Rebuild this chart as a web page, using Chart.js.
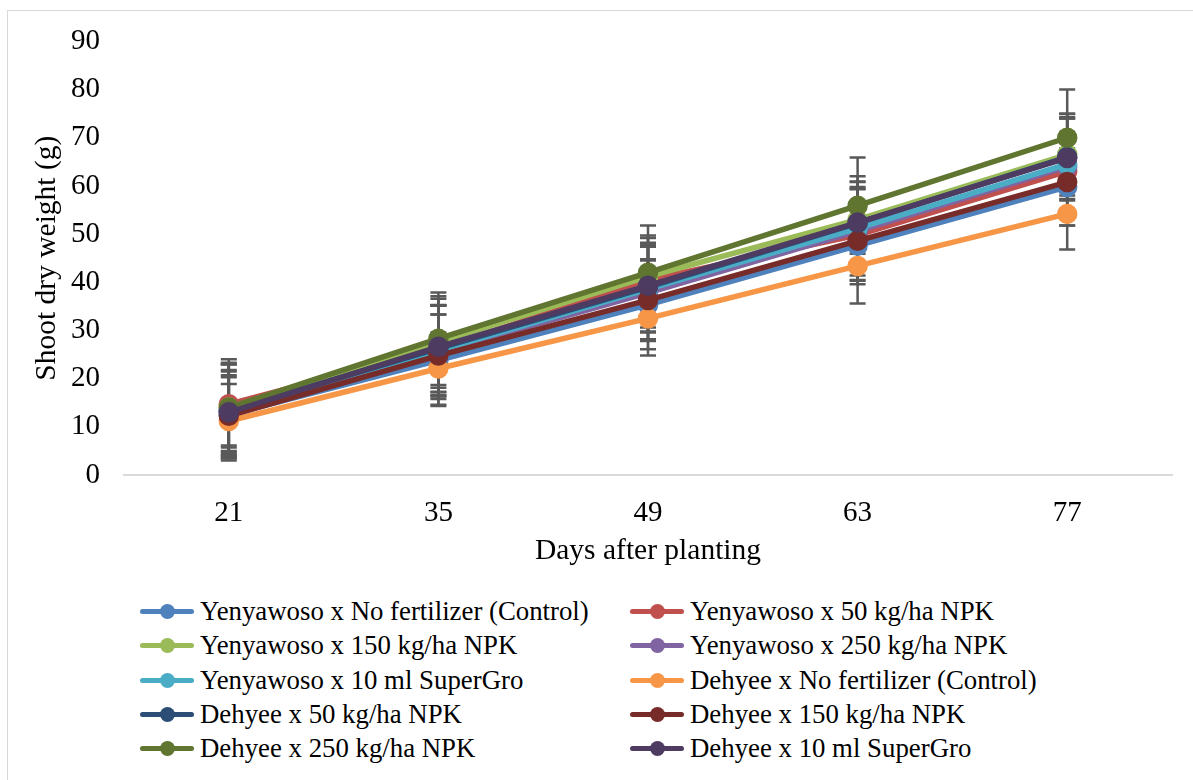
<!DOCTYPE html>
<html>
<head>
<meta charset="utf-8">
<script src="https://cdn.jsdelivr.net/npm/chart.js@4.4.1/dist/chart.umd.min.js"></script>
<style>
  html, body { margin: 0; padding: 0; background: #fff; }
  #wrap { position: relative; width: 1193px; height: 780px; overflow: hidden; }
  #frame { position: absolute; left: 7px; top: 10px; width: 1200px; height: 800px;
           border-left: 1px solid #d9d9d9; border-top: 1px solid #d9d9d9; }
  #chartBox { position: absolute; left: 0; top: 0; width: 1193px; height: 590px; }
  .leg { position: absolute; height: 30px; display: flex; align-items: center;
         font-family: "Liberation Serif", "Times New Roman", serif; font-size: 26.8px; color: #000; white-space: nowrap; }
  .mk { position: relative; width: 54px; height: 5px; border-radius: 3px; margin-right: 6px; }
  .mk i { position: absolute; left: 20px; top: -5px; width: 15px; height: 15px; border-radius: 50%; }
</style>
</head>
<body>
<div id="wrap">
  <div id="frame"></div>
  <div id="chartBox"><canvas id="shootChart" width="1193" height="590"></canvas></div>
  <div id="legend"></div>
</div>
<script>
const days = ['21', '35', '49', '63', '77'];
const yTicks = [0, 10, 20, 30, 40, 50, 60, 70, 80, 90];

const seriesNames = [
  'Yenyawoso x No fertilizer (Control)',
  'Yenyawoso x 50 kg/ha NPK',
  'Yenyawoso x 150 kg/ha NPK',
  'Yenyawoso x 250 kg/ha NPK',
  'Yenyawoso x 10 ml SuperGro',
  'Dehyee x No fertilizer (Control)',
  'Dehyee x 50 kg/ha NPK',
  'Dehyee x 150 kg/ha NPK',
  'Dehyee x 250 kg/ha NPK',
  'Dehyee x 10 ml SuperGro'
];
const seriesColors = ['#4f81bd', '#c0504d', '#9bbb59', '#8064a2', '#4bacc6',
                      '#f79646', '#2c4d75', '#772c2a', '#5f7530', '#4d3b62'];

// mean shoot dry weight (g)
const yenNoFert  = [12.5, 23.8, 35.3, 47.6, 59.8];
const yen50      = [14.7, 26.2, 40.5, 49.8, 63.0];
const yen150     = [14.0, 27.6, 41.2, 53.0, 66.5];
const yen250     = [13.2, 25.5, 37.8, 50.6, 64.0];
const yenSuper   = [13.5, 25.8, 38.6, 51.2, 64.5];
const dehNoFert  = [11.2, 22.1, 32.5, 43.4, 54.2];
const deh50      = [13.3, 26.3, 39.0, 52.3, 66.0];
const deh150     = [12.3, 24.8, 36.3, 48.6, 60.8];
const deh250     = [14.0, 28.3, 42.0, 55.9, 70.0];
const dehSuper   = [13.0, 26.6, 39.3, 52.4, 65.8];

// error bar half-lengths
const yenNoFertErr = [9.0, 9.5, 9.2, 8.0, 8.0];
const yen50Err     = [8.6, 9.0, 8.7, 9.5, 8.2];
const yen150Err    = [9.0, 9.5, 8.5, 9.0, 8.5];
const yen250Err    = [7.5, 9.7, 9.6, 9.2, 10.0];
const yenSuperErr  = [9.5, 9.4, 9.0, 8.2, 9.5];
const dehNoFertErr = [7.7, 7.5, 7.7, 7.8, 7.4];
const deh50Err     = [8.5, 9.0, 9.2, 8.5, 9.0];
const deh150Err    = [8.0, 8.5, 8.5, 8.1, 9.0];
const deh250Err    = [10.0, 9.6, 9.8, 10.0, 10.0];
const dehSuperErr  = [10.0, 10.0, 8.7, 8.5, 8.5];

const seriesValues = [yenNoFert, yen50, yen150, yen250, yenSuper, dehNoFert, deh50, deh150, deh250, dehSuper];
const seriesErrors = [yenNoFertErr, yen50Err, yen150Err, yen250Err, yenSuperErr, dehNoFertErr, deh50Err, deh150Err, deh250Err, dehSuperErr];

const serif = '"Liberation Serif", "Times New Roman", serif';

const errorBars = {
  id: 'errorBars',
  beforeDatasetsDraw(chart) {
    const ctx = chart.ctx;
    const yScale = chart.scales.y;
    ctx.save();
    ctx.strokeStyle = '#595959';
    ctx.lineWidth = 2.5;
    chart.data.datasets.forEach((ds, i) => {
      const meta = chart.getDatasetMeta(i);
      meta.data.forEach((pt, j) => {
        const v = ds.data[j];
        const e = ds.errors[j];
        const x = pt.x;
        const yTop = yScale.getPixelForValue(v + e);
        const yBot = yScale.getPixelForValue(v - e);
        ctx.beginPath();
        ctx.moveTo(x, yTop); ctx.lineTo(x, yBot);
        ctx.moveTo(x - 8, yTop); ctx.lineTo(x + 8, yTop);
        ctx.moveTo(x - 8, yBot); ctx.lineTo(x + 8, yBot);
        ctx.stroke();
      });
    });
    ctx.restore();
  }
};

const datasets = seriesNames.map((name, i) => ({
  label: name,
  data: seriesValues[i],
  errors: seriesErrors[i],
  borderColor: seriesColors[i],
  backgroundColor: seriesColors[i],
  pointBackgroundColor: seriesColors[i],
  pointBorderColor: seriesColors[i],
  borderWidth: 5.5,
  pointRadius: 7.5,
  pointHoverRadius: 7.5,
  tension: 0,
  order: seriesNames.length - 1 - i
}));

new Chart(document.getElementById('shootChart').getContext('2d'), {
  type: 'line',
  data: { labels: days, datasets: datasets },
  plugins: [errorBars],
  options: {
    responsive: false,
    animation: false,
    maintainAspectRatio: false,
    layout: { padding: { left: 30, right: 21, top: 40, bottom: 15 } },
    plugins: { legend: { display: false }, tooltip: { enabled: false } },
    scales: {
      x: {
        offset: true,
        grid: { display: false, drawTicks: false, offset: true },
        border: { display: true, color: '#d9d9d9', width: 2 },
        ticks: { color: '#000', padding: 21, font: { family: serif, size: 29 } },
        title: { display: true, text: 'Days after planting', color: '#000',
                 padding: { top: 0, bottom: 6 }, font: { family: serif, size: 29.5 } },
        afterFit: (scale) => { scale.height = 100; }
      },
      y: {
        min: 0, max: 90,
        afterBuildTicks: (scale) => { scale.ticks = yTicks.map(v => ({ value: v })); },
        grid: { display: false, drawTicks: false },
        border: { display: false },
        ticks: { color: '#000', padding: 24, font: { family: serif, size: 29 } },
        title: { display: true, text: 'Shoot dry weight (g)', color: '#000',
                 padding: { top: 0, bottom: 0 }, font: { family: serif, size: 29.5 } },
        afterFit: (scale) => { scale.width = 94; }
      }
    }
  }
});

// two-column legend below the plot
const legendBox = document.getElementById('legend');
const colX = [140, 630];
const rowY = [596, 630, 665, 699, 733];
seriesNames.forEach((name, i) => {
  const item = document.createElement('div');
  item.className = 'leg';
  item.style.left = colX[i % 2] + 'px';
  item.style.top = rowY[Math.floor(i / 2)] + 'px';
  const mk = document.createElement('span');
  mk.className = 'mk';
  mk.style.background = seriesColors[i];
  const dot = document.createElement('i');
  dot.style.background = seriesColors[i];
  mk.appendChild(dot);
  item.appendChild(mk);
  item.appendChild(document.createTextNode(name));
  legendBox.appendChild(item);
});
</script>
</body>
</html>
